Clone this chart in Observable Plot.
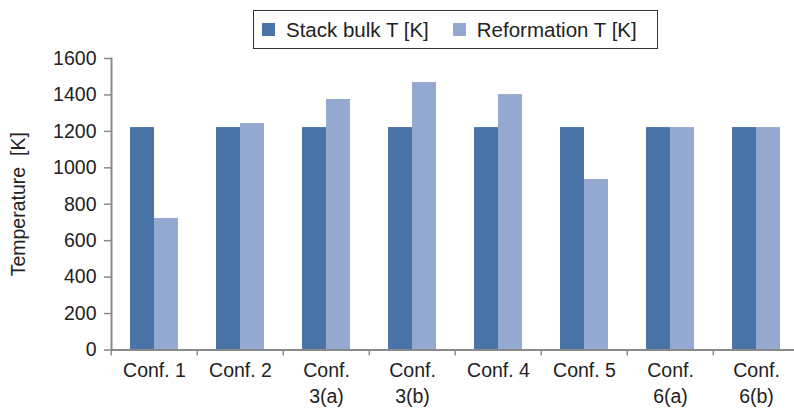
<!DOCTYPE html>
<html>
<head>
<meta charset="utf-8">
<script src="https://cdn.jsdelivr.net/npm/d3@7"></script>
<script src="https://cdn.jsdelivr.net/npm/@observablehq/plot@0.6"></script>
<style>
  html, body { margin: 0; padding: 0; background: #fff; }
  #wrap { position: relative; width: 794px; height: 409px; }
  #wrap, #wrap * { font-family: "Liberation Sans", Arial, Helvetica, sans-serif !important; }
  #leg { position: absolute; left: 253px; top: 10px; width: 405px; height: 39px; box-sizing: border-box;
         border: 1px solid #333; padding-left: 8px; display: flex; align-items: center; background: #fff; overflow: hidden; }
  #leg .lg-swatches { min-height: 0 !important; margin: 0 !important; flex-wrap: nowrap !important; white-space: nowrap; width: 400px; }
  #leg .lg-swatch { margin-right: 24px !important; font-size: 20.5px !important; color: #222; white-space: nowrap; }
  #leg .lg-swatch > svg { margin-right: 11px !important; }
</style>
</head>
<body>
<div id="wrap"><div id="chart"></div><div id="leg"></div></div>
<script>
const categories = ["Conf. 1", "Conf. 2", "Conf.\n3(a)", "Conf.\n3(b)", "Conf. 4", "Conf. 5", "Conf.\n6(a)", "Conf.\n6(b)"];
const series = ["Stack bulk T [K]", "Reformation T [K]"];
const stackBulk = [1221, 1221, 1221, 1221, 1221, 1221, 1221, 1221];
const reformation = [722, 1243, 1375, 1468, 1402, 936, 1221, 1221];
const colors = ["#4A74A8", "#95A9D0"];
const yTicks = [0, 200, 400, 600, 800, 1000, 1200, 1400, 1600];
const yLabel = "Temperature  [K]";

const data = categories.flatMap((c, i) => [
  {cat: c, series: series[0], value: stackBulk[i]},
  {cat: c, series: series[1], value: reformation[i]}
]);

const W = 794, H = 409, mL = 109, mR = -6, mT = 58, mB = 59.5;
const step = (W - mR - mL) / categories.length;

const chart = Plot.plot({
  width: W, height: H,
  marginLeft: mL, marginRight: mR, marginTop: mT, marginBottom: mB,
  style: {fontFamily: "'Liberation Sans', Arial, sans-serif", fontSize: "19.5px", color: "#222", overflow: "visible", background: "#fff"},
  fx: {domain: categories, padding: 0, axis: null, label: null},
  x: {domain: series, axis: null, paddingInner: 0, paddingOuter: 0.73},
  y: {domain: [0, 1600], axis: null},
  color: {domain: series, range: colors},
  marks: [
    Plot.barY(data, {fx: "cat", x: "series", y: "value", fill: "series"}),
    Plot.frame({anchor: "left", facetAnchor: "left", stroke: "#8a8a8a", strokeWidth: 2}),
    Plot.ruleY([0], {stroke: "#8a8a8a", strokeWidth: 2}),
    Plot.axisY({ticks: yTicks, tickSize: 7, tickPadding: 8, stroke: "#8a8a8a", strokeWidth: 1.5, fill: "#222",
                label: yLabel, labelAnchor: "center", labelArrow: "none", labelOffset: 100, tickFormat: d => String(d)}),
    Plot.axisFx({anchor: "bottom", tickSize: 6, tickFormat: () => "", dx: -step / 2, stroke: "#8a8a8a", strokeWidth: 1.5, label: null}),
    Plot.axisFx({anchor: "bottom", tickSize: 0, tickPadding: 9, lineHeight: 1.33, fill: "#222", label: null})
  ]
});
document.getElementById("chart").appendChild(chart);

const legend = chart.legend("color", {legend: "swatches", swatchSize: 13, className: "lg"});
document.getElementById("leg").appendChild(legend);
</script>
</body>
</html>
